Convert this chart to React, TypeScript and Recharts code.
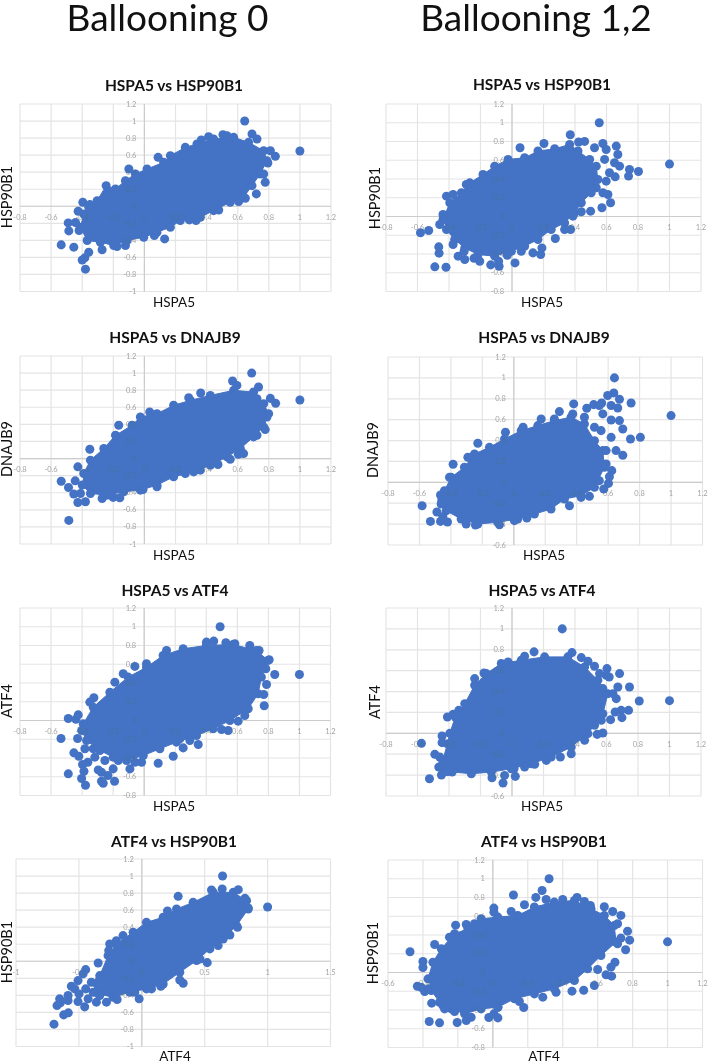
import { ScatterChart, Scatter, XAxis, YAxis, ZAxis, CartesianGrid, ReferenceLine } from "recharts";

type Pt = [number, number];

const BLUE = "#4472C4";
const FONT = "Lato, 'Open Sans', sans-serif";

const ticks08 = [-0.8, -0.6, -0.4, -0.2, 0, 0.2, 0.4, 0.6, 0.8, 1, 1.2];
const ticks06 = [-0.6, -0.4, -0.2, 0, 0.2, 0.4, 0.6, 0.8, 1, 1.2];
const ticks10 = [-1, -0.8, -0.6, -0.4, -0.2, 0, 0.2, 0.4, 0.6, 0.8, 1, 1.2];
const ticksAtf = [-1, -0.5, 0, 0.5, 1, 1.5];

// edge = outline of the solid overplotted cloud, stray = the separate dots around it
const b0GrpHspEdge: Pt[] = [[-.304,.066],[-.246,.242],[-.186,.203],[-.122,.3],[-.058,.379],[.017,.437],[.124,.516],[.167,.594],[.263,.691],[.338,.73],[.445,.789],[.574,.809],[.67,.75],[.767,.652],[.788,.535],[.745,.379],[.692,.242],[.638,.105],[.552,.047],[.445,-.051],[.36,-.129],[.231,-.168],[.167,-.246],[.081,-.305],[-.004,-.363],[-.111,-.402],[-.197,-.461],[-.283,-.422],[-.368,-.402],[-.411,-.246],[-.39,-.09],[-.358,-.012]];
const b0GrpHspStray: Pt[] = [[-.535,-.453],[-.486,-.289],[-.49,-.195],[-.454,-.48],[-.379,-.738],[-.4,-.63],[-.383,-.605],[-.272,-.51],[-.396,.047],[-.426,-.059],[-.35,.02],[-.443,-.19],[-.42,-.285],[-.358,-.54],[-.176,-.473],[-.122,-.46],[.13,-.383],[.064,-.344],[-.1,.437],[.088,.574],[.645,1],[.692,.848],[.724,.79],[.842,.586],[1,.648],[.72,.145],[.777,.281],[.767,.379],[.794,.508],[.81,.652],[.413,.816],[.366,.777],[.505,.84],[.531,.828],[.649,.094],[.606,.055],[.478,-.043],[.332,-.168],[.289,-.16]];

const b12GrpHspEdge: Pt[] = [[-.438,-.032],[-.395,.146],[-.321,.253],[-.268,.359],[-.184,.448],[-.11,.537],[-.025,.609],[.08,.626],[.165,.698],[.271,.722],[.366,.769],[.419,.698],[.493,.609],[.535,.537],[.545,.395],[.503,.253],[.44,.146],[.397,.039],[.334,-.068],[.249,-.139],[.165,-.246],[.08,-.317],[-.004,-.37],[-.11,-.423],[-.216,-.406],[-.3,-.335],[-.364,-.246],[-.416,-.139]];
const b12GrpHspStray: Pt[] = [[.554,1],[1,.559],[.803,.48],[.746,.502],[.74,.431],[.37,.872],[.423,.794],[.461,.801],[.203,.779],[.051,.733],[.662,.751],[.577,.779],[-.581,-.174],[-.529,-.149],[-.465,-.324],[-.463,-.391],[-.49,-.537],[-.419,-.541],[-.342,-.423],[-.3,-.459],[-.304,-.37],[-.241,-.445],[-.205,-.477],[-.135,-.516],[-.085,-.477],[-.082,-.53],[-.03,-.413],[.019,-.495],[.059,-.37],[.133,-.388],[.182,-.406],[.19,-.335],[.275,-.235],[.372,-.139],[.499,.057],[.626,.146],[.571,.093],[.609,.235],[.577,.253],[.598,.377],[.655,.423],[.619,.466],[.683,.537],[.651,.573],[.672,.662],[.588,.609],[.598,.715],[.524,.733],[.334,-.139],[.44,.05],[.535,.306],[.387,.004],[-.416,.217],[-.374,.235],[-.29,.342],[-.438,.021],[-.459,-.085],[-.374,-.299]];

const b0GrpDnaEdge: Pt[] = [[-.39,-.175],[-.347,-.019],[-.261,.117],[-.186,.272],[-.079,.389],[-.026,.486],[.081,.525],[.188,.623],[.296,.681],[.424,.739],[.574,.798],[.702,.778],[.767,.642],[.799,.525],[.767,.37],[.702,.253],[.617,.117],[.531,.019],[.424,-.078],[.317,-.156],[.188,-.214],[.081,-.311],[-.026,-.37],[-.133,-.389],[-.24,-.428],[-.347,-.409],[-.4,-.311]];
const b0GrpDnaStray: Pt[] = [[.69,1],[.567,.907],[.595,.856],[.734,.837],[1,.685],[.844,.646],[.81,.704],[.362,.767],[.285,.712],[.034,.545],[-.165,.389],[-.351,.109],[-.428,-.097],[-.535,-.265],[-.488,-.339],[-.445,-.261],[-.486,-.724],[-.454,-.416],[-.428,-.514],[-.379,-.506],[-.411,-.409],[-.272,-.467],[-.201,-.455],[-.158,-.459],[.604,.051],[.638,.058],[.552,-.008],[.473,-.07],[.777,.339],[.724,.272],[.724,.7],[-.009,-.362],[.081,-.331],[.263,-.175],[.36,-.136],[.788,.486]];

const b12GrpDnaEdge: Pt[] = [[-.441,-.08],[-.398,.048],[-.314,.144],[-.25,.272],[-.155,.335],[-.059,.415],[.047,.495],[.153,.543],[.258,.591],[.364,.623],[.449,.559],[.513,.399],[.566,.304],[.576,.144],[.513,-.048],[.428,-.128],[.322,-.16],[.237,-.256],[.131,-.304],[.025,-.351],[-.102,-.383],[-.229,-.399],[-.335,-.351],[-.43,-.272],[-.458,-.176]];
const b12GrpDnaStray: Pt[] = [[.64,1],[1,.639],[.636,.856],[.597,.831],[.672,.796],[.746,.76],[.661,.712],[.559,.76],[.508,.744],[.464,.709],[.381,.751],[.29,.677],[.805,.431],[.742,.415],[.693,.259],[.65,.304],[.619,.431],[.693,.511],[.672,.591],[.619,.597],[.555,.495],[.566,.655],[.544,.735],[.619,.735],[.623,.112],[.602,-.01],[.572,-.064],[.587,.176],[.608,.054],[-.583,-.224],[-.489,-.284],[-.53,-.374],[-.466,-.374],[-.422,-.38],[-.451,-.329],[-.386,.173],[-.229,.374],[-.292,.24],[-.053,.479],[.059,.527],[-.244,-.409],[-.303,-.399],[-.091,-.406],[.004,-.367],[.083,-.342],[.354,-.224],[.481,-.134],[.428,-.144],[.174,.607],[.258,.607],[.375,.655],[.449,.623],[.513,.527],[-.466,-.121],[-.409,.048],[-.462,-.208],[.587,.304],[.544,.016]];

const b0GrpAtfEdge: Pt[] = [[-.393,-.036],[-.328,.142],[-.221,.302],[-.103,.463],[.015,.569],[.122,.694],[.251,.765],[.401,.801],[.573,.811],[.723,.747],[.798,.641],[.755,.463],[.734,.285],[.67,.125],[.552,0],[.444,-.089],[.337,-.16],[.208,-.231],[.101,-.302],[-.006,-.374],[-.114,-.427],[-.2,-.391],[-.285,-.32],[-.371,-.214],[-.403,-.107]];
const b0GrpAtfStray: Pt[] = [[.489,1],[1,.491],[.841,.491],[.805,.648],[.783,.552],[.788,.384],[.77,.278],[.773,.157],[.648,.053],[.605,-.007],[.541,-.107],[.498,-.096],[.348,-.256],[.251,-.292],[.187,-.381],[.09,-.456],[-.017,-.445],[-.489,.021],[-.44,.014],[-.425,.06],[-.536,-.192],[-.429,-.192],[-.489,-.569],[-.453,-.345],[-.421,-.381],[-.363,-.445],[-.397,-.47],[-.388,-.541],[-.403,-.619],[-.378,-.69],[-.296,-.527],[-.275,-.552],[-.275,-.648],[-.264,-.669],[-.234,-.587],[-.191,-.648],[-.2,-.516],[-.167,-.427],[-.253,-.427],[-.318,-.391],[-.092,-.516],[-.06,-.445],[-.135,.498],[-.06,.577],[.015,.605],[-.189,.409],[-.324,.242],[-.35,.196],[.401,.836],[.448,.847],[.144,.747],[.526,.829],[.584,.819],[.68,.801],[.74,.747],[-.382,-.302],[-.328,-.302],[.294,-.214],[.23,-.196]];

const b12GrpAtfEdge: Pt[] = [[-.44,-.26],[-.41,-.1],[-.395,0],[-.36,.157],[-.3,.284],[-.237,.46],[-.163,.572],[-.068,.668],[.059,.7],[.207,.732],[.355,.732],[.461,.636],[.545,.508],[.609,.38],[.577,.188],[.482,-.003],[.376,-.131],[.249,-.227],[.123,-.291],[-.004,-.339],[-.131,-.371],[-.258,-.387],[-.38,-.37],[-.43,-.33]];
const b12GrpAtfStray: Pt[] = [[.319,1],[1,.313],[.808,.31],[.746,.444],[.74,.22],[.693,.22],[.698,.15],[.655,.204],[.683,.572],[.603,.62],[.598,.556],[.617,.54],[.626,.131],[.577,.003],[.541,-.01],[.376,-.195],[-.575,-.096],[-.444,-.026],[-.444,-.089],[-.49,-.201],[-.465,-.323],[-.448,-.399],[-.524,-.435],[-.41,-.367],[-.41,.157],[-.374,.182],[-.338,.22],[-.237,.524],[-.178,.578],[-.057,-.476],[-.127,-.425],[-.047,-.403],[.021,-.412],[.013,-.339],[.08,-.323],[.144,-.297],[.218,-.259],[.307,-.227],[.08,.738],[.14,.78],[.381,.773],[.44,.725],[.482,.69],[.524,.642],[.556,.572],[-.025,.684],[.662,.332],[.567,.125],[-.427,-.259],[-.459,-.227],[.524,.077],[.461,-.067],[.577,.428],[.672,.444],[.641,.38]];

const b0AtfHspEdge: Pt[] = [[-.334,-.168],[-.268,.066],[-.202,.203],[-.069,.34],[.037,.457],[.17,.516],[.276,.613],[.408,.691],[.568,.809],[.727,.809],[.833,.711],[.846,.613],[.753,.418],[.647,.262],[.541,.145],[.435,.008],[.302,-.129],[.17,-.266],[.037,-.324],[-.095,-.363],[-.228,-.422],[-.347,-.383],[-.401,-.246]];
const b0AtfHspStray: Pt[] = [[.642,1],[1,.637],[-.698,-.738],[-.621,-.629],[-.584,-.605],[-.454,-.535],[-.674,-.52],[-.647,-.488],[-.653,-.441],[-.586,-.461],[-.586,-.402],[-.507,-.473],[-.56,-.293],[-.507,-.227],[-.533,-.324],[-.446,-.098],[-.467,-.148],[-.347,-.02],[-.021,-.441],[-.196,-.449],[-.281,-.48],[-.361,-.48],[-.427,-.441],[-.499,-.383],[-.446,-.324],[-.387,-.363],[.52,-.016],[.329,-.258],[.302,-.219],[.289,.762],[.204,.59],[.554,.836],[.639,.848],[.767,.84],[.846,.625],[.82,.738],[.761,.398],[.7,.309],[.607,.184],[.151,-.293],[.077,-.324],[-.056,-.363],[-.202,.242],[-.255,.203],[-.149,.301],[-.263,.125],[.462,.027],[-.334,-.207],[-.334,-.402]];

const b12AtfHspEdge: Pt[] = [[-.371,-.068],[-.343,.11],[-.295,.253],[-.219,.413],[-.143,.466],[-.067,.573],[.029,.591],[.143,.609],[.238,.698],[.352,.751],[.467,.769],[.562,.68],[.638,.609],[.695,.502],[.705,.324],[.619,.181],[.543,.039],[.467,-.085],[.352,-.174],[.238,-.228],[.124,-.281],[.029,-.37],[-.067,-.388],[-.162,-.441],[-.238,-.388],[-.305,-.317],[-.352,-.192]];
const b12AtfHspStray: Pt[] = [[.322,1],[1,.327],[.282,.875],[.118,.826],[.246,.801],[.006,.687],[.006,.644],[-.474,.221],[-.4,.117],[-.4,.053],[-.432,-.146],[-.39,-.203],[-.368,-.174],[-.35,-.327],[-.364,-.523],[-.305,-.537],[-.204,-.534],[-.152,-.512],[-.124,-.477],[-.023,-.48],[.029,-.484],[.006,-.441],[.029,-.37],[.152,-.31],[.177,-.374],[.286,-.263],[.362,-.21],[.453,-.199],[.52,-.189],[.581,-.139],[.648,-.025],[.68,-.039],[.699,.11],[.6,.032],[.676,.057],[.76,.242],[.783,.345],[.771,.441],[.733,.367],[.733,.609],[.686,.651],[.638,.701],[.558,.715],[.482,.801],[.524,.758],[-.213,.505],[-.152,.512],[-.105,.52],[-.333,.299],[-.248,.377],[.105,.651],[.181,.722],[.305,.779],[.4,.779],[.714,.52],[.714,.306],[-.286,-.352],[-.219,-.416],[-.276,-.388],[-.41,-.157]];

const rows = (pts: Pt[]) => pts.map(([x, y]) => ({ x, y }));

const M = 16; // room round each plot box for the tick text

function Panel({ title, xName, yName, xTicks, yTicks, edge, stray, box, titleAt, xNameAt, yNameAt }: any) {
  const w = box[2] - box[0];
  const h = box[3] - box[1];
  const xMin = xTicks[0];
  const xMax = xTicks[xTicks.length - 1];
  const yMin = yTicks[0];
  const yMax = yTicks[yTicks.length - 1];
  const zeroY = M + (h * yMax) / (yMax - yMin);
  const zeroX = M + (w * -xMin) / (xMax - xMin);
  // tick text sits over the dots in the original but barely shows there, hence the blend
  const tickStyle: any = { fontSize: 7.5, fontFamily: FONT, fill: "#a4a4a4", style: { mixBlendMode: "darken" } };
  return (
    <>
      <div style={{ position: "absolute", left: box[0] - M, top: box[1] - M }}>
        {/* the axes take 1px each (a zero-sized axis draws no ticks), so the margins give it back */}
        <ScatterChart width={w + 2 * M} height={h + 2 * M} margin={{ top: M, right: M, bottom: M - 1, left: M - 1 }}>
          <CartesianGrid stroke="#e4e4e4" strokeWidth={1.2} />
          <XAxis
            type="number"
            dataKey="x"
            domain={[xMin, xMax]}
            ticks={xTicks}
            interval={0}
            height={1}
            axisLine={false}
            tickLine={false}
            tick={(p: any) => (
              <text x={p.x} y={zeroY + 13.5} textAnchor="middle" {...tickStyle}>
                {p.payload.value}
              </text>
            )}
          />
          <YAxis
            type="number"
            dataKey="y"
            domain={[yMin, yMax]}
            ticks={yTicks}
            interval={0}
            width={1}
            axisLine={false}
            tickLine={false}
            tick={(p: any) => (
              <text x={zeroX - 8} y={p.y + 2.5} textAnchor="end" {...tickStyle}>
                {p.payload.value}
              </text>
            )}
          />
          <ZAxis range={[36, 36]} />
          <ReferenceLine x={0} stroke="#cccccc" strokeWidth={1.2} />
          <ReferenceLine y={0} stroke="#cccccc" strokeWidth={1.2} />
          <Scatter
            data={rows(edge)}
            fill={BLUE}
            line={{ fill: BLUE, stroke: BLUE, strokeWidth: 1 }}
            isAnimationActive={false}
          />
          <Scatter data={rows(stray)} fill={BLUE} isAnimationActive={false} />
        </ScatterChart>
      </div>
      <Caption at={titleAt} size={15.5} weight={700}>{title}</Caption>
      <Caption at={xNameAt} size={13.5}>{xName}</Caption>
      <Caption at={yNameAt} size={14.5} rotate>{yName}</Caption>
    </>
  );
}

function Caption({ at, size, weight = 400, rotate = false, children }: any) {
  return (
    <div
      style={{
        position: "absolute",
        left: at[0],
        top: at[1],
        transform: `translate(-50%, -50%)${rotate ? " rotate(-90deg)" : ""}`,
        fontFamily: FONT,
        fontSize: size,
        fontWeight: weight,
        color: "#111",
        whiteSpace: "nowrap",
        lineHeight: 0.8,
      }}
    >
      {children}
    </div>
  );
}

export default function App() {
  return (
    <div style={{ position: "absolute", left: 0, top: 0, width: 708, height: 1062, overflow: "hidden", background: "#fff", filter: "blur(0.3px)" }}>
      <Caption at={[167.5, 16.5]} size={37}>Ballooning 0</Caption>
      <Caption at={[536, 16.5]} size={37}>Ballooning 1,2</Caption>

      <Panel title="HSPA5 vs HSP90B1" xName="HSPA5" yName="HSP90B1" xTicks={ticks08} yTicks={ticks10}
        edge={b0GrpHspEdge} stray={b0GrpHspStray} box={[19.5, 103.5, 330.5, 291]}
        titleAt={[174, 85]} xNameAt={[174, 302]} yNameAt={[7, 197]} />
      <Panel title="HSPA5 vs HSP90B1" xName="HSPA5" yName="HSP90B1" xTicks={ticks08} yTicks={ticks08}
        edge={b12GrpHspEdge} stray={b12GrpHspStray} box={[385.5, 104, 700.5, 291.5]}
        titleAt={[542, 84]} xNameAt={[542, 302]} yNameAt={[375, 198]} />
      <Panel title="HSPA5 vs DNAJB9" xName="HSPA5" yName="DNAJB9" xTicks={ticks08} yTicks={ticks10}
        edge={b0GrpDnaEdge} stray={b0GrpDnaStray} box={[19.5, 355.5, 330.5, 543.5]}
        titleAt={[175, 337]} xNameAt={[174, 555]} yNameAt={[7, 449]} />
      <Panel title="HSPA5 vs DNAJB9" xName="HSPA5" yName="DNAJB9" xTicks={ticks08} yTicks={ticks06}
        edge={b12GrpDnaEdge} stray={b12GrpDnaStray} box={[387.5, 356.5, 702, 544.5]}
        titleAt={[544, 337]} xNameAt={[544, 555]} yNameAt={[373, 450]} />
      <Panel title="HSPA5 vs ATF4" xName="HSPA5" yName="ATF4" xTicks={ticks08} yTicks={ticks08}
        edge={b0GrpAtfEdge} stray={b0GrpAtfStray} box={[20, 607.5, 330.5, 795]}
        titleAt={[175, 590]} xNameAt={[174, 806]} yNameAt={[7, 701]} />
      <Panel title="HSPA5 vs ATF4" xName="HSPA5" yName="ATF4" xTicks={ticks08} yTicks={ticks06}
        edge={b12GrpAtfEdge} stray={b12GrpAtfStray} box={[385.5, 608, 700.5, 796]}
        titleAt={[542, 590]} xNameAt={[542, 806]} yNameAt={[375, 702]} />
      <Panel title="ATF4 vs HSP90B1" xName="ATF4" yName="HSP90B1" xTicks={ticksAtf} yTicks={ticks10}
        edge={b0AtfHspEdge} stray={b0AtfHspStray} box={[16, 858.5, 330.5, 1046]}
        titleAt={[174, 841]} xNameAt={[175, 1056]} yNameAt={[7, 952]} />
      <Panel title="ATF4 vs HSP90B1" xName="ATF4" yName="HSP90B1" xTicks={ticks06} yTicks={ticks08}
        edge={b12AtfHspEdge} stray={b12AtfHspStray} box={[387.5, 859.5, 702, 1047]}
        titleAt={[544, 841]} xNameAt={[544, 1056]} yNameAt={[373, 953]} />
    </div>
  );
}
